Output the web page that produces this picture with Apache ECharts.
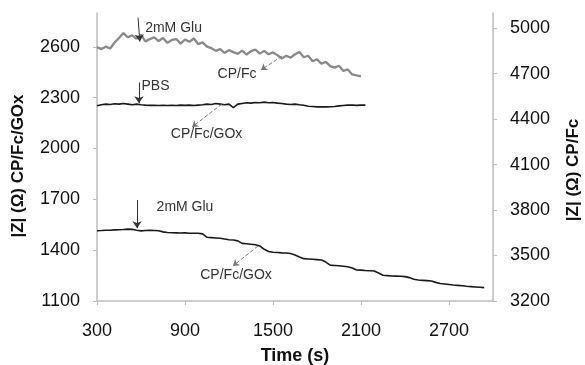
<!DOCTYPE html>
<html>
<head>
<meta charset="utf-8">
<script src="https://cdn.jsdelivr.net/npm/echarts@6/dist/echarts.min.js"></script>
<style>
  html, body { margin: 0; padding: 0; background: #fff; }
  #chart { width: 585px; height: 365px; }
</style>
</head>
<body>
<div id="chart"></div>
<script>
// time ticks / axis setup
const xTicks = [300, 900, 1500, 2100, 2700];
const leftTicks = [1100, 1400, 1700, 2000, 2300, 2600];
const rightTicks = [3200, 3500, 3800, 4100, 4400, 4700, 5000];

// samples every 30 s starting at 300 s
const sampleStart = 300;
const sampleStep = 30;

// CP/Fc (grey, right axis) in PBS + 2mM Glu
const cpFc = [
  4875, 4862, 4878, 4866, 4905, 4935, 4968, 4940, 4952, 4930,
  4958, 4912, 4928, 4940, 4915, 4935, 4903, 4922, 4928, 4898,
  4925, 4910, 4932, 4895, 4906, 4878, 4868, 4850, 4862, 4836,
  4855, 4842, 4830, 4852, 4826, 4848, 4858, 4832, 4850, 4828,
  4840, 4822, 4800, 4818, 4806, 4828, 4842, 4808, 4818, 4782,
  4795, 4765, 4778, 4750, 4740, 4752, 4718, 4728, 4695, 4688,
  4682
];

// CP/Fc/GOx in PBS only (left axis)
const gox_pbs = [
  2252, 2258, 2262, 2260, 2264, 2262, 2266, 2262, 2258, 2262,
  2258, 2256, 2255, 2255, 2254, 2255, 2254, 2255, 2254, 2256,
  2255, 2256, 2254, 2256, 2258, 2262, 2260, 2266, 2262, 2258,
  2262, 2242, 2262, 2266, 2270, 2268, 2272, 2270, 2274, 2270,
  2272, 2268, 2266, 2262, 2260, 2262, 2258, 2255, 2250, 2248,
  2246, 2247, 2246, 2247, 2248, 2252, 2254, 2256, 2257, 2255,
  2256, 2256
];

// CP/Fc/GOx with 2mM Glu (left axis)
const gox_glu = [
  1515, 1516, 1518, 1518, 1520, 1521, 1522, 1524, 1523, 1518,
  1514, 1516, 1517, 1516, 1515, 1508, 1504, 1503, 1502, 1501,
  1502, 1500, 1500, 1500, 1496, 1476, 1474, 1472, 1470, 1466,
  1462, 1460, 1455, 1440, 1438, 1435, 1432, 1425, 1405, 1392,
  1388, 1386, 1384, 1383, 1380, 1372, 1360, 1350, 1348, 1346,
  1344, 1342, 1330, 1312, 1310, 1308, 1305, 1302, 1295, 1283,
  1282, 1280, 1279, 1277, 1265, 1252, 1250, 1248, 1247, 1246,
  1244, 1238, 1228, 1224, 1222, 1220, 1218, 1210, 1203, 1200,
  1197, 1194, 1192, 1190, 1187, 1185, 1183, 1181, 1179
];

// annotations: [from, to] in data coords
const fcGluArrow = [[580, 5070], [592, 4912]];
const fcLabelArrow = [[1561, 4816], [1418, 4724]];
const pbsArrow = [[586, 2390], [586, 2268]];
const pbsLabelArrow = [[1152, 2263], [948, 2127]];
const gluArrow = [[573, 1696], [573, 1530]];
const gluLabelArrow = [[1398, 1425], [1227, 1307]];

// annotation texts: [t, value, text]
const fcTexts = [[822, 5001, '2mM Glu'], [1255, 4697, 'CP/Fc']];
const pbsTexts = [[699, 2369, 'PBS'], [1047, 2086, 'CP/Fc/GOx']];
const gluTexts = [[900, 1655, '2mM Glu'], [1248, 1253, 'CP/Fc/GOx']];

const toPairs = (vals) => vals.map((v, i) => [sampleStart + i * sampleStep, v]);

const arrowLine = (pair, dashed) => ({
  silent: true,
  symbol: ['none', 'arrow'],
  symbolSize: dashed ? 6 : 7,
  label: { show: false },
  emphasis: { disabled: true },
  lineStyle: {
    color: dashed ? '#777' : '#333',
    width: 1,
    type: dashed ? 'dashed' : 'solid',
  },
  data: [[{ coord: pair[0] }, { coord: pair[1] }]],
});

const textPoints = (texts) => ({
  silent: true,
  symbol: 'rect',
  symbolSize: 1,
  itemStyle: { color: 'rgba(0,0,0,0)' },
  label: {
    show: true,
    position: 'inside',
    formatter: '{b}',
    color: '#333',
    fontSize: 14,
    fontFamily: 'Liberation Sans, Arial, sans-serif',
  },
  data: texts.map((t) => ({ name: t[2], coord: [t[0], t[1]] })),
});

const plain = (v) => String(v);
const axisFont = {
  color: '#111',
  fontSize: 18,
  fontFamily: 'Liberation Sans, Arial, sans-serif',
  formatter: plain,
};
const nameFont = {
  color: '#111',
  fontSize: 17,
  fontWeight: 'bold',
  fontFamily: 'Liberation Sans, Arial, sans-serif',
};
const axisLineStyle = { lineStyle: { color: '#bdbdbd', width: 1.5 } };
const axisTickStyle = { show: true, length: 4, lineStyle: { color: '#bdbdbd', width: 1 } };

const chart = echarts.init(document.getElementById('chart'), null, { renderer: 'canvas' });

chart.setOption({
  animation: false,
  grid: { left: 97, right: 92, top: 13, bottom: 64, outerBoundsMode: 'none', containLabel: false },
  xAxis: {
    type: 'value',
    min: xTicks[0],
    max: 3000,
    interval: 600,
    name: 'Time (s)',
    nameLocation: 'middle',
    nameGap: 46,
    nameTextStyle: Object.assign({}, nameFont, { fontSize: 18 }),
    axisLine: axisLineStyle,
    axisTick: axisTickStyle,
    axisLabel: Object.assign({ margin: 21, showMaxLabel: false }, axisFont),
    splitLine: { show: false },
  },
  yAxis: [
    {
      type: 'value',
      position: 'left',
      min: leftTicks[0],
      max: 2800,
      interval: 300,
      name: '|Z| (Ω) CP/Fc/GOx',
      nameLocation: 'middle',
      nameGap: 70,
      nameTextStyle: Object.assign({ padding: [0, 18, 0, 0] }, nameFont),
      axisLine: Object.assign({ show: true }, axisLineStyle),
      axisTick: axisTickStyle,
      axisLabel: Object.assign({ margin: 17, showMaxLabel: false }, axisFont),
      splitLine: { show: false },
    },
    {
      type: 'value',
      position: 'right',
      min: rightTicks[0],
      max: 5100,
      interval: 300,
      name: '|Z| (Ω) CP/Fc',
      nameLocation: 'middle',
      nameGap: 72,
      nameTextStyle: Object.assign({ padding: [0, 26, 0, 0] }, nameFont),
      axisLine: Object.assign({ show: true }, axisLineStyle),
      axisTick: axisTickStyle,
      axisLabel: Object.assign({ margin: 17, showMaxLabel: false }, axisFont),
      splitLine: { show: false },
    },
  ],
  series: [
    {
      name: 'CP/Fc',
      type: 'line',
      yAxisIndex: 1,
      showSymbol: false,
      data: toPairs(cpFc),
      lineStyle: { color: '#8a8a8a', width: 2.3 },
      markLine: arrowLine(fcGluArrow, false),
      markPoint: textPoints(fcTexts),
      z: 2,
    },
    {
      name: 'CP/Fc/GOx PBS',
      type: 'line',
      yAxisIndex: 0,
      showSymbol: false,
      data: toPairs(gox_pbs),
      lineStyle: { color: '#1a1a1a', width: 1.6 },
      markLine: arrowLine(pbsArrow, false),
      markPoint: textPoints(pbsTexts),
      z: 3,
    },
    {
      name: 'CP/Fc/GOx Glu',
      type: 'line',
      yAxisIndex: 0,
      showSymbol: false,
      data: toPairs(gox_glu),
      lineStyle: { color: '#1a1a1a', width: 1.6 },
      markLine: arrowLine(gluArrow, false),
      markPoint: textPoints(gluTexts),
      z: 3,
    },
    // dashed pointer arrows, kept as separate empty-data series on each axis
    {
      type: 'line', yAxisIndex: 1, data: [], silent: true,
      markLine: arrowLine(fcLabelArrow, true),
    },
    {
      type: 'line', yAxisIndex: 0, data: [], silent: true,
      markLine: arrowLine(pbsLabelArrow, true),
    },
    {
      type: 'line', yAxisIndex: 0, data: [], silent: true,
      markLine: arrowLine(gluLabelArrow, true),
    },
  ],
});
</script>
</body>
</html>
